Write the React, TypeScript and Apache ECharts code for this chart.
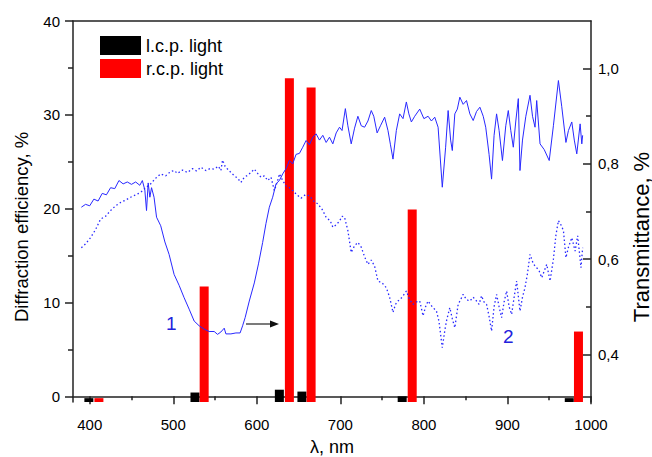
import React, { useEffect, useRef } from 'react';
import * as echarts from 'echarts';

// Diffraction efficiency bars (left axis, %)
const lcpWavelengths = [399, 526, 627, 654, 774, 974];
const lcpEfficiency = [-0.2, 0.4, 0.7, 0.5, 0.0, -0.2];
const rcpWavelengths = [411, 537, 639, 665, 786, 985];
const rcpEfficiency = [-0.2, 11.7, 33.9, 32.9, 19.9, 6.9];

// Transmittance curve 1 (solid)
const curve1Wavelengths = [
  390, 395, 400, 405, 410, 415, 420, 425, 430, 435, 440, 445, 450, 455, 460, 463, 466, 468, 470, 472,
  474, 477, 480, 485, 490, 495, 501, 507, 513, 519, 525, 531, 537, 543, 549, 553, 557, 561, 563, 569,
  575, 580, 583, 586, 591, 597, 602, 607, 611, 615, 619, 623, 627, 631, 635, 639, 643, 647, 651, 655,
  659, 663, 667, 671, 675, 679, 683, 687, 691, 695, 699, 702, 706, 709, 713, 717, 721, 725, 729, 733,
  737, 740, 744, 748, 753, 757, 760, 763, 767, 771, 775, 779, 782, 785, 789, 795, 800, 805, 809, 813,
  817, 822, 826, 829, 832, 834, 837, 840, 843, 847, 851, 855, 859, 863, 867, 871, 874, 878, 881, 884,
  887, 890, 894, 898, 901, 904, 907, 910, 913, 915, 918, 922, 927, 930, 933, 935, 939, 944, 950, 955,
  961, 965, 970, 973, 977, 980, 983, 987, 989, 990,
];
const curve1Transmittance = [
  0.709, 0.715, 0.712, 0.726, 0.722, 0.738, 0.735, 0.75, 0.748, 0.765, 0.758, 0.762, 0.757, 0.762, 0.755, 0.765, 0.745, 0.702, 0.76, 0.73,
  0.75, 0.73, 0.688, 0.67, 0.636, 0.61, 0.568, 0.545, 0.519, 0.495, 0.47, 0.46, 0.453, 0.448, 0.448, 0.442, 0.447, 0.455, 0.443, 0.443,
  0.445, 0.445, 0.46, 0.477, 0.512, 0.55, 0.59, 0.635, 0.675, 0.709, 0.73, 0.758, 0.765, 0.779, 0.79, 0.807, 0.8, 0.82, 0.822, 0.835,
  0.849, 0.84, 0.856, 0.863, 0.85, 0.86, 0.845, 0.856, 0.842, 0.865, 0.877, 0.87, 0.916, 0.88, 0.842, 0.875, 0.9, 0.88, 0.877, 0.89,
  0.912, 0.9, 0.865, 0.88, 0.898, 0.87, 0.84, 0.81, 0.87, 0.905, 0.895, 0.93, 0.905, 0.888, 0.9, 0.915, 0.895, 0.9, 0.89, 0.898,
  0.877, 0.751, 0.835, 0.912, 0.85, 0.828, 0.905, 0.915, 0.94, 0.925, 0.933, 0.905, 0.891, 0.91, 0.919, 0.9, 0.877, 0.82, 0.768, 0.86,
  0.905, 0.87, 0.807, 0.88, 0.912, 0.87, 0.835, 0.89, 0.937, 0.786, 0.85, 0.9, 0.944, 0.9, 0.877, 0.933, 0.842, 0.83, 0.807, 0.88,
  0.975, 0.92, 0.845, 0.87, 0.888, 0.85, 0.821, 0.884, 0.842, 0.86,
];

// Transmittance curve 2 (dotted)
const curve2Wavelengths = [
  390, 395, 401, 407, 413, 419, 425, 431, 437, 443, 449, 455, 461, 467, 473, 479, 485, 491, 497, 501,
  505, 511, 517, 523, 528, 533, 539, 544, 549, 554, 557, 559, 562, 566, 569, 573, 577, 581, 585, 589,
  593, 597, 601, 605, 609, 613, 617, 621, 625, 627, 631, 635, 639, 643, 648, 653, 658, 663, 668, 673,
  678, 683, 688, 691, 695, 699, 702, 705, 709, 713, 717, 721, 725, 729, 733, 737, 741, 745, 750, 755,
  759, 763, 766, 769, 774, 779, 783, 787, 791, 795, 799, 802, 805, 810, 815, 818, 822, 825, 827, 831,
  834, 837, 841, 844, 847, 851, 855, 859, 863, 866, 869, 872, 875, 878, 881, 884, 887, 890, 893, 896,
  899, 902, 905, 908, 911, 915, 918, 921, 924, 927, 931, 935, 938, 941, 944, 947, 951, 955, 958, 961,
  964, 967, 970, 973, 977, 981, 984, 987, 988, 990,
];
const curve2Transmittance = [
  0.624, 0.632, 0.645, 0.662, 0.684, 0.69, 0.702, 0.712, 0.719, 0.724, 0.73, 0.735, 0.74, 0.75, 0.758, 0.77, 0.779, 0.775, 0.784, 0.786,
  0.78, 0.787, 0.782, 0.79, 0.785, 0.793, 0.786, 0.79, 0.789, 0.795, 0.786, 0.808, 0.795, 0.787, 0.782, 0.775, 0.77, 0.761, 0.772, 0.776,
  0.782, 0.789, 0.78, 0.772, 0.775, 0.765, 0.772, 0.744, 0.765, 0.779, 0.765, 0.754, 0.75, 0.744, 0.735, 0.728, 0.735, 0.733, 0.722, 0.716,
  0.705, 0.688, 0.68, 0.667, 0.672, 0.68, 0.69, 0.688, 0.66, 0.614, 0.628, 0.635, 0.625, 0.605, 0.589, 0.598, 0.585, 0.554, 0.55, 0.54,
  0.52, 0.488, 0.505, 0.512, 0.52, 0.533, 0.515, 0.505, 0.51, 0.512, 0.481, 0.5, 0.512, 0.5, 0.491, 0.47, 0.414, 0.45, 0.47, 0.498,
  0.475, 0.456, 0.505, 0.515, 0.526, 0.515, 0.512, 0.52, 0.512, 0.505, 0.523, 0.51, 0.505, 0.48, 0.449, 0.5, 0.526, 0.5, 0.477, 0.51,
  0.533, 0.5, 0.484, 0.52, 0.554, 0.491, 0.52, 0.54, 0.57, 0.61, 0.59, 0.582, 0.575, 0.561, 0.575, 0.589, 0.554, 0.6, 0.65, 0.681,
  0.672, 0.66, 0.603, 0.625, 0.645, 0.617, 0.649, 0.6, 0.582, 0.624,
];

const xTickValues = [400, 500, 600, 700, 800, 900, 1000];
const xMinorTickValues = [450, 550, 650, 750, 850, 950];
const leftTickValues = [0, 10, 20, 30, 40];
const leftMinorTickValues = [5, 15, 25, 35];
const rightTickValues = [0.4, 0.6, 0.8, 1.0];
const rightMinorTickValues = [0.5, 0.7, 0.9];

const FONT = '"Liberation Sans", Arial, sans-serif';
const AXIS_COLOR = '#222';

const zip = (xs: number[], ys: number[]) => xs.map((x, i) => [x, ys[i]]);

export default function App() {
  const ref = useRef<HTMLDivElement>(null);
  useEffect(() => {
    if (!ref.current) return;
    const chart = echarts.init(ref.current, null, { renderer: 'svg' });
    const gridPos = { left: 73, right: 61, top: 21, bottom: 55, containLabel: false, outerBoundsMode: 'none' };
    const axisLine = { show: true, lineStyle: { color: AXIS_COLOR, width: 1.5 } };
    const hiddenLine = { show: true, lineStyle: { color: 'rgba(0,0,0,0)', width: 1 } };
    const tickStyle = { color: AXIS_COLOR, width: 1.5 };
    const option: any = {
      animation: false,
      backgroundColor: '#fff',
      textStyle: { fontFamily: FONT },
      grid: [gridPos, { ...gridPos }],
      legend: {
        data: ['l.c.p. light', 'r.c.p. light'],
        orient: 'vertical',
        left: 100,
        top: 36,
        padding: 0,
        itemWidth: 41,
        itemHeight: 19,
        itemGap: 4,
        icon: 'rect',
        textStyle: { fontSize: 18, color: '#000', fontFamily: FONT },
      },
      xAxis: [
        {
          type: 'value', gridIndex: 0, position: 'bottom', min: 380, max: 1000,
          name: 'λ, nm', nameLocation: 'middle', nameGap: 36,
          nameTextStyle: { fontSize: 18, color: '#000', fontFamily: FONT },
          axisLine,
          axisTick: { show: true, customValues: xTickValues, length: 8, lineStyle: tickStyle },
          axisLabel: {
            show: true, customValues: xTickValues, margin: 15, fontSize: 15, color: '#000', fontFamily: FONT,
            formatter: (v: number) => String(v),
          },
          splitLine: { show: false },
        },
        {
          type: 'value', gridIndex: 0, position: 'top', min: 380, max: 1000,
          axisLine,
          axisTick: { show: false },
          axisLabel: { show: false },
          splitLine: { show: false },
        },
        {
          type: 'value', gridIndex: 1, position: 'bottom', min: 380, max: 1000,
          axisLine: hiddenLine,
          axisTick: { show: true, customValues: xMinorTickValues, length: 4, lineStyle: tickStyle },
          axisLabel: { show: false },
          splitLine: { show: false },
        },
      ],
      yAxis: [
        {
          type: 'value', gridIndex: 0, position: 'left', min: -0.61, max: 40, startValue: -0.61,
          axisLine,
          axisTick: { show: true, customValues: leftTickValues, length: 8, lineStyle: tickStyle },
          axisLabel: { show: true, customValues: leftTickValues, margin: 13, fontSize: 15, color: '#000', fontFamily: FONT },
          splitLine: { show: false },
        },
        {
          type: 'value', gridIndex: 0, position: 'right', min: 0.3, max: 1.1,
          axisLine,
          axisTick: { show: true, inside: true, customValues: rightTickValues, length: 8, lineStyle: tickStyle },
          axisLabel: {
            show: true, customValues: rightTickValues, margin: 7, fontSize: 15, color: '#000', fontFamily: FONT,
            formatter: (v: number) => v.toFixed(1).replace('.', ','),
          },
          splitLine: { show: false },
        },
        {
          type: 'value', gridIndex: 1, position: 'left', min: -0.61, max: 40,
          axisLine: hiddenLine,
          axisTick: { show: true, customValues: leftMinorTickValues, length: 5, lineStyle: tickStyle },
          axisLabel: { show: false },
          splitLine: { show: false },
        },
        {
          type: 'value', gridIndex: 1, position: 'right', min: 0.3, max: 1.1,
          axisLine: hiddenLine,
          axisTick: { show: true, inside: true, customValues: rightMinorTickValues, length: 5, lineStyle: tickStyle },
          axisLabel: { show: false },
          splitLine: { show: false },
        },
      ],
      series: [
        {
          name: 'l.c.p. light', type: 'bar', xAxisIndex: 0, yAxisIndex: 0,
          data: zip(lcpWavelengths, lcpEfficiency),
          barWidth: 9, barGap: '-100%',
          itemStyle: { color: '#000000' }, z: 2,
        },
        {
          name: 'r.c.p. light', type: 'bar', xAxisIndex: 0, yAxisIndex: 0,
          data: zip(rcpWavelengths, rcpEfficiency),
          barWidth: 9, barGap: '-100%',
          itemStyle: { color: '#ff0000' }, z: 2,
        },
        {
          name: 'curve 1', type: 'line', xAxisIndex: 0, yAxisIndex: 1,
          data: zip(curve1Wavelengths, curve1Transmittance),
          showSymbol: false, symbol: 'none', z: 3,
          lineStyle: { color: '#2828ff', width: 1 },
        },
        {
          name: 'curve 2', type: 'line', xAxisIndex: 0, yAxisIndex: 1,
          data: zip(curve2Wavelengths, curve2Transmittance),
          showSymbol: false, symbol: 'none', z: 3,
          lineStyle: { color: '#2828ff', width: 1.3, type: [1.5, 2.5] },
        },
        {
          name: 'minor', type: 'line', xAxisIndex: 2, yAxisIndex: 2,
          data: [], showSymbol: false, silent: true,
        },
      ],
      graphic: [
        {
          type: 'text', x: 21, y: 227, rotation: Math.PI / 2,
          style: { text: 'Diffraction efficiency, %', fontSize: 18.5, fill: '#000', fontFamily: FONT, textAlign: 'center', textVerticalAlign: 'middle' },
        },
        {
          type: 'text', x: 641, y: 237, rotation: Math.PI / 2,
          style: { text: 'Transmittance, %', fontSize: 22, fill: '#000', fontFamily: FONT, textAlign: 'center', textVerticalAlign: 'middle' },
        },
        { type: 'text', left: 166, top: 314, style: { text: '1', fontSize: 19, fill: '#2222dd', fontFamily: FONT } },
        { type: 'text', left: 503, top: 327, style: { text: '2', fontSize: 19, fill: '#2222dd', fontFamily: FONT } },
        { type: 'line', shape: { x1: 246, y1: 324, x2: 272, y2: 324 }, style: { stroke: '#333', lineWidth: 1.3 } },
        { type: 'polygon', shape: { points: [[270, 320.5], [279, 324], [270, 327.5]] }, style: { fill: '#111' } },
      ],
    };
    chart.setOption(option);
    return () => chart.dispose();
  }, []);
  return (
    <div
      ref={ref}
      style={{ position: 'fixed', left: 0, top: 0, width: 652, height: 457, background: '#fff' }}
    />
  );
}
